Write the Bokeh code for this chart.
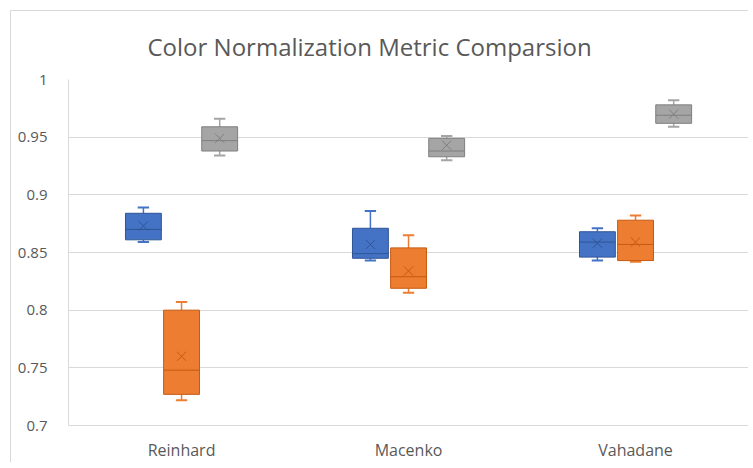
from bokeh.plotting import figure
from bokeh.models import Range1d, FixedTicker, ColumnDataSource
from bokeh.embed import file_html
from bokeh.resources import INLINE

# ---- data ----
categories = ["Reinhard", "Macenko", "Vahadane"]
series_names = ["Series A", "Series B", "Series C"]
series_colors = ["#4472C4", "#ED7D31", "#A5A5A5"]
series_dark = ["#2F5597", "#C55A11", "#7F7F7F"]

# per series: values for each category
s1_min = [0.859, 0.843, 0.843]
s1_q1 = [0.861, 0.845, 0.846]
s1_med = [0.870, 0.849, 0.859]
s1_q3 = [0.884, 0.871, 0.868]
s1_max = [0.889, 0.886, 0.871]
s1_mean = [0.873, 0.857, 0.858]

s2_min = [0.722, 0.815, 0.842]
s2_q1 = [0.727, 0.819, 0.843]
s2_med = [0.748, 0.829, 0.857]
s2_q3 = [0.800, 0.854, 0.878]
s2_max = [0.807, 0.865, 0.882]
s2_mean = [0.760, 0.834, 0.859]

s3_min = [0.934, 0.930, 0.959]
s3_q1 = [0.938, 0.933, 0.962]
s3_med = [0.947, 0.938, 0.969]
s3_q3 = [0.959, 0.949, 0.978]
s3_max = [0.966, 0.951, 0.982]
s3_mean = [0.949, 0.943, 0.970]

y_ticks = [0.7, 0.75, 0.8, 0.85, 0.9, 0.95, 1.0]
y_tick_labels = ["0.7", "0.75", "0.8", "0.85", "0.9", "0.95", "1"]

title_text = "Color Normalization Metric Comparsion"

series = [
    (s1_min, s1_q1, s1_med, s1_q3, s1_max, s1_mean),
    (s2_min, s2_q1, s2_med, s2_q3, s2_max, s2_mean),
    (s3_min, s3_q1, s3_med, s3_q3, s3_max, s3_mean),
]

# ---- layout constants ----
W, H = 738, 452
FONT = "Open Sans"
TEXT_COLOR = "#595959"
GRID = "#D9D9D9"
offsets = [-0.168, 0.0, 0.168]
box_w = 0.158
cap_w = 0.05

p = figure(width=W, height=H, output_backend="svg", toolbar_location=None,
           x_range=Range1d(-0.498, 2.502), y_range=Range1d(0.7, 1.0),
           min_border_left=57, min_border_right=0, min_border_top=68,
           min_border_bottom=H - 414, margin=(10, 0, 0, 10),
           styles={"border-top": "1px solid #D9D9D9",
                   "border-left": "1px solid #D9D9D9"})

p.title.text = title_text
p.title.align = "left"
p.title.offset = 79
p.title.text_font = FONT
p.title.text_font_size = "24px"
p.title.text_font_style = "normal"
p.title.text_color = TEXT_COLOR
p.title.standoff = 33

p.outline_line_color = None
p.background_fill_color = "white"
p.border_fill_color = "white"

# axes
p.yaxis.ticker = FixedTicker(ticks=y_ticks)
p.yaxis.major_label_overrides = {t: l for t, l in zip(y_ticks, y_tick_labels)}
p.xaxis.ticker = FixedTicker(ticks=list(range(len(categories))))
p.xaxis.major_label_overrides = {i: c for i, c in enumerate(categories)}
for ax in (p.xaxis, p.yaxis):
    ax.major_tick_line_color = None
    ax.minor_tick_line_color = None
    ax.axis_line_color = GRID
    ax.major_label_text_font = FONT
    ax.major_label_text_color = TEXT_COLOR
p.yaxis.major_label_text_font_size = "15px"
p.xaxis.major_label_text_font_size = "16px"
p.yaxis.major_label_standoff = 15
p.xaxis.major_label_standoff = 7

p.xgrid.grid_line_color = None
p.ygrid.grid_line_color = GRID
p.ygrid.ticker = FixedTicker(ticks=y_ticks)

for si, (mn, q1, med, q3, mx, mean) in enumerate(series):
    xs = [i + offsets[si] for i in range(len(categories))]
    src = ColumnDataSource(dict(
        x=xs, mn=mn, q1=q1, med=med, q3=q3, mx=mx, mean=mean,
        x0=[x - box_w / 2 for x in xs], x1=[x + box_w / 2 for x in xs],
        c0=[x - cap_w / 2 for x in xs], c1=[x + cap_w / 2 for x in xs],
    ))
    col = series_colors[si]
    dark = series_dark[si]
    # whiskers
    p.segment(x0="x", y0="q3", x1="x", y1="mx", source=src, line_color=col, line_width=1.5)
    p.segment(x0="x", y0="q1", x1="x", y1="mn", source=src, line_color=col, line_width=1.5)
    p.segment(x0="c0", y0="mx", x1="c1", y1="mx", source=src, line_color=col, line_width=2)
    p.segment(x0="c0", y0="mn", x1="c1", y1="mn", source=src, line_color=col, line_width=2)
    # box
    p.vbar(x="x", width=box_w, top="q3", bottom="q1", source=src,
           fill_color=col, line_color=dark, line_width=1)
    # median
    p.segment(x0="x0", y0="med", x1="x1", y1="med", source=src, line_color=dark, line_width=1)
    # mean
    p.scatter(x="x", y="mean", source=src, marker="x", size=13,
              line_color=dark, line_width=1)

open("out.html", "w").write(file_html(p, INLINE))
